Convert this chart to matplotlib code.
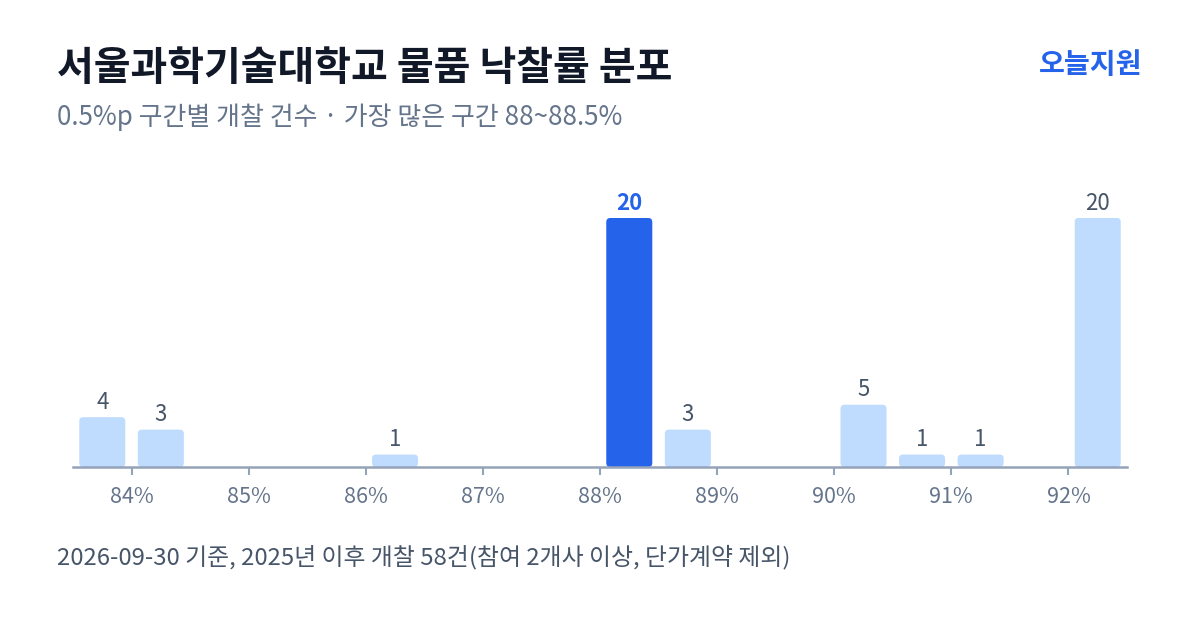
import matplotlib
matplotlib.use("Agg")
import matplotlib.pyplot as plt
from matplotlib.patches import FancyBboxPatch

plt.rcParams['font.family'] = ['Noto Sans CJK KR', 'DejaVu Sans']

# Data
bin_starts = [83.5, 84.0, 86.0, 88.0, 88.5, 90.0, 90.5, 91.0, 92.0]
counts = [4, 3, 1, 20, 3, 5, 1, 1, 20]
highlight_bin = 88.0
tick_values = [84, 85, 86, 87, 88, 89, 90, 91, 92]
tick_labels = ["84%", "85%", "86%", "87%", "88%", "89%", "90%", "91%", "92%"]
title = "서울과학기술대학교 물품 낙찰률 분포"
subtitle = "0.5%p 구간별 개찰 건수 · 가장 많은 구간 88~88.5%"
brand = "오늘지원"
footnote = "2026-09-30 기준, 2025년 이후 개찰 58건(참여 2개사 이상, 단가계약 제외)"

W, H = 1200, 630
fig = plt.figure(figsize=(W / 100, H / 100), dpi=100)
fig.patch.set_facecolor("white")

ax_left, ax_right = 73, 1127
ax_bottom, ax_top = 467, 180
ax = fig.add_axes([ax_left / W, (H - ax_bottom) / H, (ax_right - ax_left) / W, (ax_bottom - ax_top) / H])

xmin, xmax = 83.5, 92.5
px_per_x = (ax_right - ax_left) / (xmax - xmin)
px_per_y = 249 / 20
ymax = (ax_bottom - ax_top) / px_per_y
ax.set_xlim(xmin, xmax)
ax.set_ylim(0, ymax)

light = "#bfdbfe"
dark = "#2563eb"
bar_w = 0.393
centers = [s + 0.25 for s in bin_starts]
colors = [dark if s == highlight_bin else light for s in bin_starts]
bars = ax.bar(centers, counts, width=bar_w, color=colors, align="center", zorder=2)

# replace rectangles with rounded patches of the same bounds
r_px = 4
aspect = (1 / px_per_y) / (1 / px_per_x)
for b, c in zip(bars, colors):
    x0, y0 = b.get_x(), b.get_y()
    w, h = b.get_width(), b.get_height()
    b.set_visible(False)
    p = FancyBboxPatch((x0, y0), w, h,
                       boxstyle=f"round,pad=0,rounding_size={r_px / px_per_x}",
                       mutation_aspect=aspect, facecolor=c, edgecolor="none", zorder=2)
    ax.add_patch(p)

for cx, v, s in zip(centers, counts, bin_starts):
    hl = s == highlight_bin
    ax.annotate(str(v), (cx, v), xytext=(0, 2.5), textcoords="offset points",
                ha="center", va="bottom", fontsize=16,
                color=dark if hl else "#475569",
                fontweight="bold" if hl else "normal")

for sp in ["top", "right", "left"]:
    ax.spines[sp].set_visible(False)
ax.spines["bottom"].set_color("#94a3b8")
ax.spines["bottom"].set_linewidth(1.8)
ax.set_yticks([])
ax.set_xticks(tick_values)
ax.set_xticklabels(tick_labels, fontsize=15.5, color="#64748b")
ax.tick_params(axis="x", length=6, width=1.5, color="#94a3b8", pad=8)
ax.set_facecolor("none")

fig.text(57 / W, 1 - 68 / H, title, fontsize=28.8, fontweight="bold", color="#111827",
         ha="left", va="center")
fig.text(1142 / W, 1 - 65 / H, brand, fontsize=20.3, fontweight="bold", color=dark,
         ha="right", va="center")
fig.text(57 / W, 1 - 117 / H, subtitle, fontsize=18.7, color="#64748b",
         ha="left", va="center")
fig.text(57 / W, 1 - 557 / H, footnote, fontsize=17.2, color="#475569",
         ha="left", va="center")

fig.savefig("out.png", dpi=100, facecolor="white")
